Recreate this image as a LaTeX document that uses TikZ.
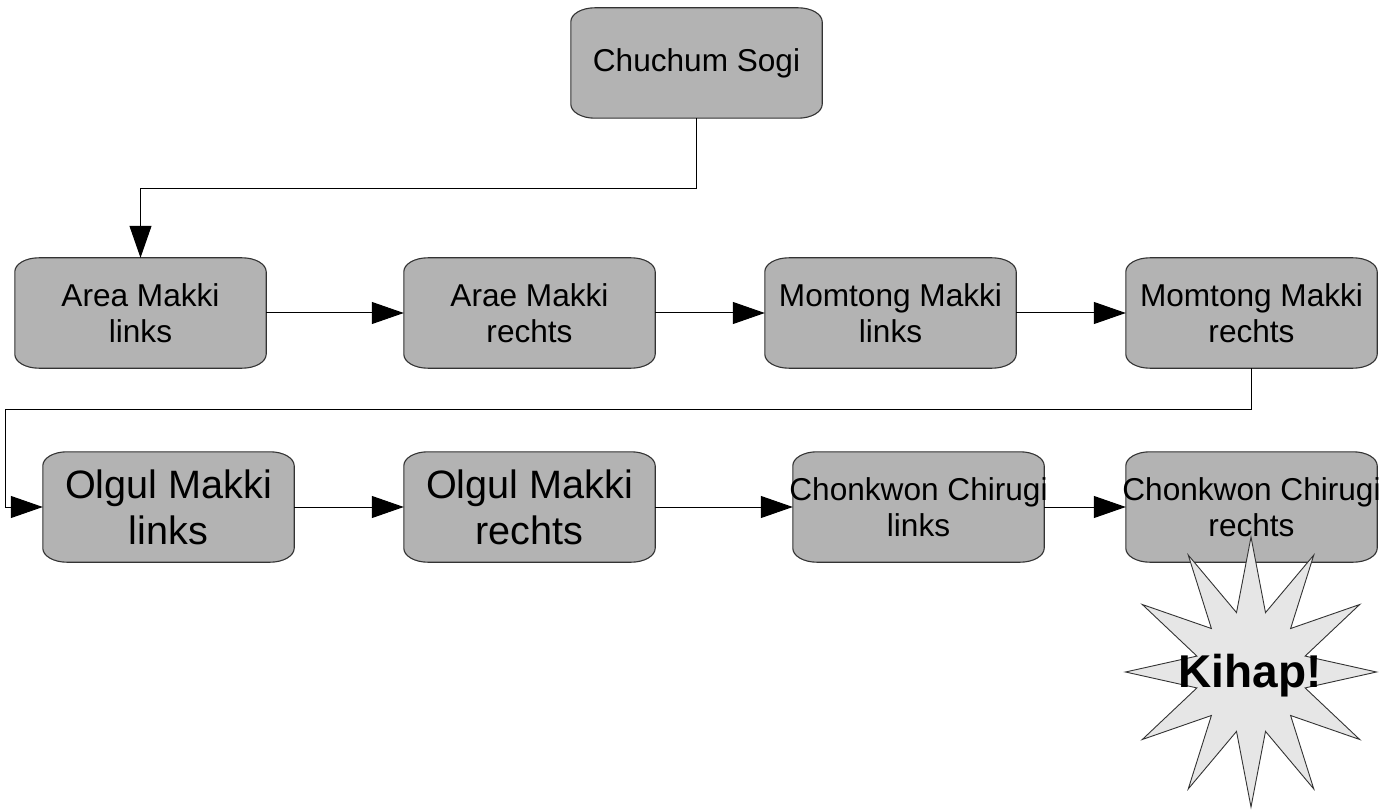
\documentclass[tikz,border=0pt]{standalone}
\usepackage{fontspec}
\setmainfont{Liberation Sans}
\usetikzlibrary{arrows.meta,calc}
\definecolor{boxfill}{HTML}{B3B3B3}
\definecolor{starfill}{HTML}{E6E6E6}
\definecolor{edge}{HTML}{333333}
% rounded box with elliptical corners (a = 24 horizontal, b = 14 vertical)
\newcommand\ellbox[1]{%
  \draw[boxline]
    ($(#1.north west)+(24,0)$) -- ($(#1.north east)+(-24,0)$)
    .. controls ($(#1.north east)+(-10.75,0)$) and ($(#1.north east)+(0,6.27)$) .. ($(#1.north east)+(0,14)$)
    -- ($(#1.south east)+(0,-14)$)
    .. controls ($(#1.south east)+(0,-6.27)$) and ($(#1.south east)+(-10.75,0)$) .. ($(#1.south east)+(-24,0)$)
    -- ($(#1.south west)+(24,0)$)
    .. controls ($(#1.south west)+(10.75,0)$) and ($(#1.south west)+(0,-6.27)$) .. ($(#1.south west)+(0,-14)$)
    -- ($(#1.north west)+(0,14)$)
    .. controls ($(#1.north west)+(0,6.27)$) and ($(#1.north west)+(10.75,0)$) .. cycle;}
\begin{document}
\begin{tikzpicture}[x=1pt,y=-1pt,
  box/.style={minimum width=251pt, minimum height=110pt, inner sep=0pt},
  boxline/.style={draw=edge, line width=1.1pt, fill=boxfill},
  txt/.style={align=center, inner sep=0pt, font=\fontsize{31.6}{36}\selectfont},
  bigtxt/.style={align=center, inner sep=0pt, font=\fontsize{39.6}{46}\selectfont},
  conn/.style={draw=black, line width=1pt, -{Triangle[length=32pt,width=22pt]}}
]
\useasboundingbox (0,0) rectangle (1400,810);

% box frames
\node[box] (cs) at (696.5,63) {};
\node[box] (al) at (140.5,313) {};
\node[box] (ar) at (529.5,313) {};
\node[box] (ml) at (890.5,313) {};
\node[box] (mr) at (1251.5,313) {};
\node[box] (ol) at (168.5,507) {};
\node[box] (or) at (529.5,507) {};
\node[box] (cl) at (918.5,507) {};
\node[box] (cr) at (1251.5,507) {};
\foreach \n in {cs,al,ar,ml,mr,ol,or,cl,cr} {\ellbox{\n}}

% texts
\node[txt] (cs-t) at (cs) {Chuchum Sogi};
\node[txt] (al-t) at (al) {Area Makki\\links};
\node[txt] (ar-t) at (ar) {Arae Makki\\rechts};
\node[txt] (ml-t) at (ml) {Momtong Makki\\links};
\node[txt] (mr-t) at (mr) {Momtong Makki\\rechts};
\node[bigtxt] (ol-t) at (ol) {Olgul Makki\\links};
\node[bigtxt] (or-t) at (or) {Olgul Makki\\rechts};
\node[txt] (cl-t) at (cl) {Chonkwon Chirugi\\links};
\node[txt] (cr-t) at (cr) {Chonkwon Chirugi\\rechts};

% connectors
\draw[conn] (cs.south) -- ++(0,70) -| (al.north);
\draw[conn] (al.east) -- (ar.west);
\draw[conn] (ar.east) -- (ml.west);
\draw[conn] (ml.east) -- (mr.west);
\draw[conn] (mr.south) -- ++(0,41) -- ++(-1246,0) |- (ol.west);
\draw[conn] (ol.east) -- (or.west);
\draw[conn] (or.east) -- (cl.west);
\draw[conn] (cl.east) -- (cr.west);

% star
\coordinate (sc) at (1251,672);
\draw[draw=edge, line width=0.9pt, fill=starfill]
  ($(sc)+(0,-135)$)
  \foreach \i in {0,...,11} {
    -- ($(sc)+({56*cos(105+30*\i)},{-61.5*sin(105+30*\i)})$)
    -- ($(sc)+({125.5*cos(120+30*\i)},{-135*sin(120+30*\i)})$)
  } -- cycle;
\node[inner sep=0pt, font=\fontsize{46}{52}\selectfont\bfseries] (kihap) at (1250,676) {Kihap!};
\end{tikzpicture}
\end{document}
